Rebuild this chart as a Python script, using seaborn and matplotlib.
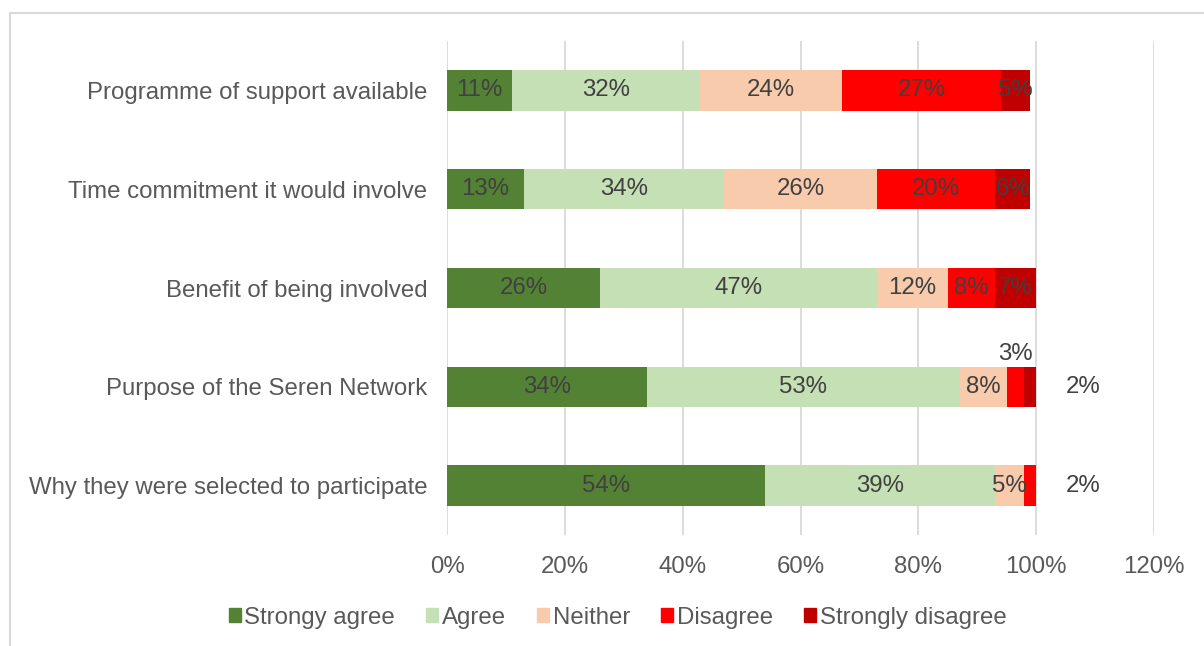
import matplotlib
matplotlib.use("Agg")
import matplotlib.pyplot as plt
import matplotlib.patches as mpatches
from matplotlib.lines import Line2D
import numpy as np
import pandas as pd
import seaborn as sns

# data (percent)
statements = ['Programme of support available',
              'Time commitment it would involve',
              'Benefit of being involved',
              'Purpose of the Seren Network',
              'Why they were selected to participate']
responses = ['Strongy agree', 'Agree', 'Neither', 'Disagree', 'Strongly disagree']
strongly_agree = [11, 13, 26, 34, 54]
agree = [32, 34, 47, 53, 39]
neither = [24, 26, 12, 8, 5]
disagree = [27, 20, 8, 3, 2]
strongly_disagree = [5, 6, 7, 2, 0]
colors = ['#548235', '#C5E0B4', '#F8CBAD', '#FF0000', '#C00000']

values = np.array([strongly_agree, agree, neither, disagree, strongly_disagree])
cum = values.cumsum(axis=0)

sns.set_style('white')
plt.rcParams['font.family'] = ['Liberation Sans', 'DejaVu Sans']
fs = 17.3

fig = plt.figure(figsize=(12.04, 6.46), dpi=100)
ax = fig.add_axes([0.3713, 0.1718, 0.5872, 0.7647])

# stacked bars: draw the longest cumulative first, then overlay shorter ones
for i in range(len(responses) - 1, -1, -1):
    df = pd.DataFrame({'statement': statements, 'value': cum[i]})
    sns.barplot(data=df, x='value', y='statement', color=colors[i],
                width=0.41, orient='h', ax=ax, saturation=1, linewidth=0)

text_color = '#404040'
for r in range(len(statements)):
    for i in range(len(responses)):
        v = values[i, r]
        if v == 0:
            continue
        start = cum[i, r] - v
        mid = start + v / 2
        label = f'{v}%'
        if r == 3 and i == 3:
            ax.text(mid, r - 0.225, label, ha='center', va='bottom',
                    fontsize=fs, color=text_color)
        elif (r == 3 and i == 4) or (r == 4 and i == 3):
            ax.text(108, r, label, ha='center', va='center',
                    fontsize=fs, color=text_color)
        else:
            ax.text(mid, r, label, ha='center', va='center',
                    fontsize=fs, color=text_color)

ax.set_xlim(0, 120)
ax.set_ylim(4.5, -0.5)
ax.set_xticks(range(0, 121, 20))
ax.set_xticklabels([f'{t}%' for t in range(0, 121, 20)])
ax.xaxis.grid(True, color='#D9D9D9', linewidth=1.3)
ax.set_axisbelow(True)
for s in ax.spines.values():
    s.set_visible(False)
ax.set_xlabel('')
ax.set_ylabel('')
ax.tick_params(axis='x', length=0, pad=15, labelsize=fs, labelcolor='#595959')
ax.tick_params(axis='y', length=0, pad=14, labelsize=fs, labelcolor='#595959')

handles = [mpatches.Patch(color=c, label=l) for c, l in zip(colors, responses)]
fig.legend(handles=handles, loc='center', bbox_to_anchor=(0.513, 0.044), ncol=5,
           frameon=False, fontsize=fs, handlelength=0.5, handleheight=0.5,
           handletextpad=0.15, columnspacing=1.3, labelcolor='#595959')

# chart area border (partly outside the crop)
fig.add_artist(Line2D([0.0083, 0.0083], [0, 0.98], color='#D9D9D9', linewidth=1.5,
                      transform=fig.transFigure))
fig.add_artist(Line2D([0.0083, 1], [0.98, 0.98], color='#D9D9D9', linewidth=1.5,
                      transform=fig.transFigure))

fig.savefig('out.png', dpi=100)
